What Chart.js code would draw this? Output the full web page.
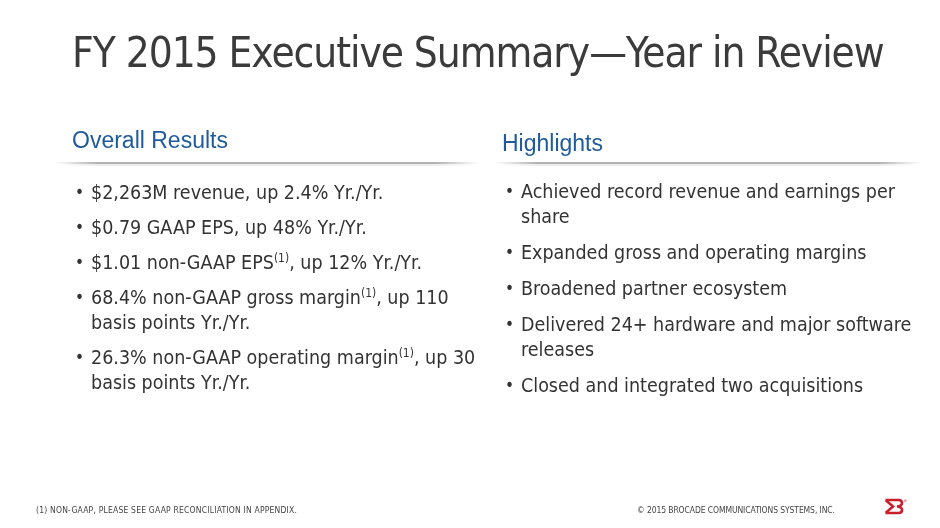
<!DOCTYPE html>
<html>
<head>
<meta charset="utf-8">
<script src="https://cdn.jsdelivr.net/npm/chart.js@4.4.1/dist/chart.umd.min.js"></script>
<style>
  html, body { margin:0; padding:0; background:#fff; }
  body { width:940px; height:528px; position:relative; overflow:hidden; font-family:"DejaVu Sans Condensed","DejaVu Sans",sans-serif; color:#333; }
  #bg { position:absolute; left:0; top:0; width:940px; height:528px; }
  .title { position:absolute; left:72px; top:28px; font-size:42px; letter-spacing:-1.05px; color:#3b3b3b; white-space:nowrap; line-height:50px; }
  .head { position:absolute; font-family:"Liberation Sans",Arial,sans-serif; font-size:23px; color:#1f5a9c; line-height:26px; white-space:nowrap; }
  .rule { position:absolute; height:2px; background:linear-gradient(to right, rgba(170,170,170,0) 0%, rgba(170,170,170,0.9) 10%, rgba(170,170,170,0.9) 90%, rgba(170,170,170,0) 100%); }
  .rule::after { content:""; position:absolute; left:0; right:0; top:2px; height:2px; background:linear-gradient(to right, rgba(220,220,220,0) 0%, rgba(225,225,225,0.6) 10%, rgba(225,225,225,0.6) 90%, rgba(220,220,220,0) 100%); }
  ul.list { position:absolute; margin:0; padding:0; list-style:none; font-size:19.5px; line-height:25px; color:#333; }
  ul.list li { position:relative; margin:0 0 10px 0; padding-left:14px; }
  #listR li { margin-bottom:11px; }
  ul.list li::before { content:"•"; position:absolute; left:-2px; top:0; font-size:17px; line-height:25px; }
  sup { font-size:12px; line-height:0; vertical-align:7px; }
  .foot { position:absolute; top:503px; font-size:8.5px; color:#444; white-space:nowrap; line-height:14px; }
  #logo { position:absolute; left:884px; top:498px; }
</style>
</head>
<body>
<canvas id="bg" width="940" height="528"></canvas>

<div class="title" id="title"></div>
<div class="head" id="headL" style="left:72px; top:127px;"></div>
<div class="head" id="headR" style="left:502px; top:130px;"></div>
<div class="rule" style="left:55px; width:424px; top:162px;"></div>
<div class="rule" style="left:495px; width:426px; top:162px;"></div>
<ul class="list" id="listL" style="left:77px; top:180px; width:410px;"></ul>
<ul class="list" id="listR" style="left:507px; top:179px; width:410px;"></ul>
<div class="foot" id="footL" style="left:36px; letter-spacing:0.2px;"></div>
<div class="foot" id="footR" style="left:637px; letter-spacing:-0.1px;"></div>
<svg id="logo" width="24" height="18" viewBox="0 0 24 18">
  <path d="M1.5,2 L14.5,2 Q18,2 18,5 Q18,8 13,8.5 Q18,9 18,12 Q18,15 14.5,15 L1.5,15" fill="none" stroke="#cc1f2d" stroke-width="2.6" stroke-linejoin="miter"/>
  <path d="M1.8,2.2 L9,8.5 L1.8,14.8" fill="none" stroke="#cc1f2d" stroke-width="2.6" stroke-linejoin="miter"/>
  <text x="19.5" y="3.5" font-size="3.6" fill="#cc1f2d" font-family="DejaVu Sans">®</text>
</svg>

<script>
// ---- slide content (text data) ----
const titleText = "FY 2015 Executive Summary\u2014Year in Review";
const leftHeading = "Overall Results";
const rightHeading = "Highlights";
const leftItems = [
  "$2,263M revenue, up 2.4% Yr./Yr.",
  "$0.79 GAAP EPS, up 48% Yr./Yr.",
  "$1.01 non-GAAP EPS<sup>(1)</sup>, up 12% Yr./Yr.",
  "68.4% non-GAAP gross margin<sup>(1)</sup>, up 110 basis points Yr./Yr.",
  "26.3% non-GAAP operating margin<sup>(1)</sup>, up 30 basis points Yr./Yr."
];
const rightItems = [
  "Achieved record revenue and earnings per share",
  "Expanded gross and operating margins",
  "Broadened partner ecosystem",
  "Delivered 24+ hardware and major software releases",
  "Closed and integrated two acquisitions"
];
const footLeft = "(1) NON-GAAP, PLEASE SEE GAAP RECONCILIATION IN APPENDIX.";
const footRight = "\u00A9 2015 BROCADE COMMUNICATIONS SYSTEMS, INC.";

document.getElementById('title').textContent = titleText;
document.getElementById('headL').textContent = leftHeading;
document.getElementById('headR').textContent = rightHeading;
document.getElementById('footL').textContent = footLeft;
document.getElementById('footR').textContent = footRight;
function fill(id, items){
  const ul = document.getElementById(id);
  items.forEach(t => { const li = document.createElement('li'); li.innerHTML = t; ul.appendChild(li); });
}
fill('listL', leftItems);
fill('listR', rightItems);

// Chart.js canvas layer (this text slide has no data marks)
new Chart(document.getElementById('bg'), {
  type: 'scatter',
  data: { datasets: [] },
  options: {
    responsive: false,
    animation: false,
    events: [],
    plugins: { legend: { display: false }, tooltip: { enabled: false }, title: { display: false } },
    scales: { x: { display: false }, y: { display: false } }
  }
});
</script>
</body>
</html>
